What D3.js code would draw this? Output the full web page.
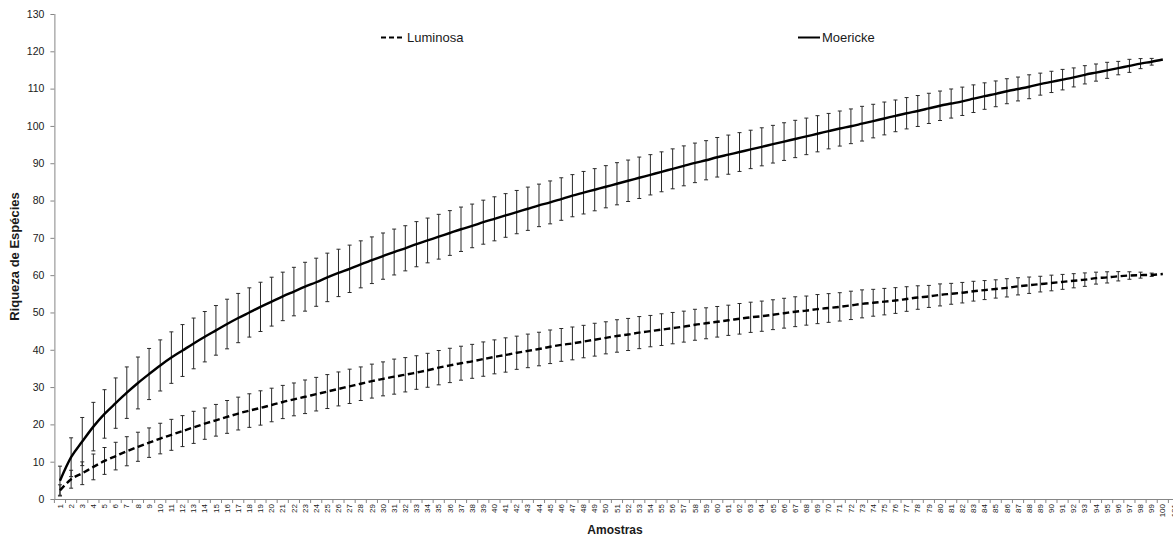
<!DOCTYPE html>
<html>
<head>
<meta charset="utf-8">
<script src="https://cdn.jsdelivr.net/npm/d3@7"></script>
<style>
  html, body { margin: 0; padding: 0; background: #fff; }
  svg { display: block; font-family: "Liberation Sans", Arial, sans-serif; }
</style>
</head>
<body>
<svg id="chart" width="1173" height="537"></svg>
<script>
// ---- Data ----
const categories = [1,2,3,4,5,6,7,8,9,10,11,12,13,14,15,16,17,18,19,20,21,22,23,24,25,26,27,28,29,30,31,32,33,34,35,36,37,38,39,40,41,42,43,44,45,46,47,48,49,50,51,52,53,54,55,56,57,58,59,60,61,62,63,64,65,66,67,68,69,70,71,72,73,74,75,76,77,78,79,80,81,82,83,84,85,86,87,88,89,90,91,92,93,94,95,96,97,98,99,100,101];

const moerickeMean = [4.9,11.2,15.4,19.4,22.8,25.7,28.5,31.1,33.5,35.8,37.9,39.8,41.7,43.5,45.2,46.9,48.5,50.0,51.5,52.9,54.3,55.6,56.9,58.1,59.4,60.6,61.7,62.9,64.0,65.1,66.2,67.2,68.3,69.3,70.3,71.3,72.3,73.2,74.2,75.1,76.0,76.9,77.8,78.7,79.5,80.4,81.3,82.1,82.9,83.7,84.5,85.3,86.1,86.9,87.7,88.5,89.3,90.1,90.8,91.6,92.3,93.0,93.7,94.4,95.1,95.8,96.5,97.2,97.9,98.6,99.3,99.9,100.6,101.3,102.0,102.7,103.4,104.0,104.7,105.4,106.0,106.6,107.3,108.0,108.6,109.3,109.9,110.5,111.2,111.8,112.4,113.0,113.7,114.3,114.9,115.5,116.1,116.7,117.2,117.8];

const moerickeErr = [3.9,5.2,6.45,6.5,6.5,6.75,6.9,6.95,6.85,6.85,6.9,6.95,6.8,6.75,6.65,6.65,6.6,6.6,6.6,6.55,6.5,6.5,6.55,6.45,6.5,6.35,6.35,6.3,6.25,6.2,6.15,6.05,6.05,6.0,6.0,6.0,5.95,5.85,5.9,5.9,5.85,5.8,5.8,5.7,5.75,5.7,5.65,5.7,5.65,5.65,5.65,5.55,5.55,5.4,5.35,5.35,5.35,5.3,5.25,5.3,5.25,5.2,5.15,5.1,5.05,5.05,5.0,4.9,4.85,4.75,4.7,4.65,4.65,4.5,4.4,4.25,4.2,4.15,4.05,3.95,3.9,3.8,3.7,3.55,3.45,3.35,3.2,3.2,2.95,2.85,2.75,2.55,2.45,2.3,2.15,1.8,1.75,1.35,0.9,0];

const luminosaMean = [2.3,5.3,6.9,8.6,10.2,11.5,12.8,14.0,15.1,16.2,17.2,18.2,19.2,20.2,21.1,22.0,22.9,23.7,24.4,25.2,26.0,26.7,27.4,28.1,28.8,29.5,30.2,30.9,31.6,32.2,32.8,33.3,33.9,34.5,35.2,35.8,36.4,36.9,37.5,38.1,38.6,39.2,39.7,40.2,40.8,41.3,41.7,42.2,42.7,43.2,43.7,44.1,44.6,45.0,45.4,45.8,46.2,46.7,47.1,47.5,47.9,48.3,48.7,49.0,49.4,49.8,50.2,50.5,50.9,51.2,51.5,51.9,52.3,52.6,52.9,53.2,53.6,54.0,54.3,54.7,55.0,55.3,55.7,56.0,56.3,56.6,57.0,57.3,57.6,57.9,58.2,58.5,58.8,59.2,59.4,59.7,59.9,60.0,60.1,60.3];

const luminosaErr = [1.5,2.4,3.05,3.45,3.6,3.7,3.9,3.9,3.95,4.1,4.15,4.15,4.3,4.2,4.25,4.4,4.4,4.5,4.6,4.5,4.45,4.4,4.5,4.5,4.55,4.55,4.6,4.5,4.55,4.55,4.7,4.6,4.5,4.55,4.6,4.6,4.55,4.55,4.6,4.55,4.6,4.45,4.5,4.5,4.5,4.4,4.4,4.35,4.4,4.3,4.35,4.3,4.3,4.2,4.25,4.2,4.15,4.15,4.15,4.1,4.05,4.1,4.05,4.05,4.0,4.0,4.0,3.9,3.9,3.85,3.8,3.8,3.75,3.6,3.55,3.45,3.3,3.15,2.95,2.95,2.8,2.75,2.65,2.55,2.45,2.45,2.3,2.2,2.1,2.1,2.0,1.9,1.8,1.6,1.5,1.25,1.0,0.8,0.45,0];

const yTicks = [0,10,20,30,40,50,60,70,80,90,100,110,120,130];
const seriesNames = ["Luminosa", "Moericke"];

// ---- Layout ----
const svg = d3.select("#chart");
const plotLeft = 54.4, plotTop = 14, plotBottom = 499, bandW = 11.14;
const axisColor = "#868686";
const textColor = "#1a1a1a";

const x = d3.scaleBand().domain(categories).range([plotLeft, plotLeft + categories.length * bandW]).padding(0);
const y = d3.scaleLinear().domain([0, 130]).range([plotBottom, plotTop]);
const cx = c => x(c) + x.bandwidth() / 2;

const series = [
  { name: seriesNames[0], mean: luminosaMean, err: luminosaErr, dash: "6.5,3.5" },
  { name: seriesNames[1], mean: moerickeMean, err: moerickeErr, dash: null }
].map(s => ({ ...s, pts: s.mean.map((m, i) => ({ c: categories[i], m, e: s.err[i] })) }));

// ---- Y axis ----
const yAxis = svg.append("g")
  .attr("transform", `translate(${plotLeft},0)`)
  .call(d3.axisLeft(y).tickValues(yTicks).tickSize(4).tickSizeOuter(0).tickPadding(6));
yAxis.select(".domain").attr("stroke", axisColor).attr("d", `M0.5,${plotTop}V${plotBottom}`);
yAxis.selectAll(".tick line").attr("stroke", axisColor);
yAxis.selectAll(".tick text").attr("fill", textColor).style("font-size", "10.5px")
  .style("font-family", "'Liberation Sans', Arial, sans-serif");

// ---- X axis ----
const xAxis = svg.append("g")
  .attr("transform", `translate(0,${plotBottom})`)
  .call(d3.axisBottom(x).tickSize(0).tickSizeOuter(0));
xAxis.select(".domain").attr("stroke", axisColor);
xAxis.selectAll(".tick text")
  .attr("transform", "rotate(-90)")
  .attr("x", -5).attr("y", 0).attr("dy", "0.33em")
  .style("text-anchor", "end")
  .style("font-size", "8px")
  .style("font-family", "'Liberation Sans', Arial, sans-serif")
  .attr("fill", textColor);
// boundary ticks between categories
xAxis.selectAll(".bt")
  .data(categories)
  .enter().append("line")
  .attr("class", "bt")
  .attr("x1", d => x(d)).attr("x2", d => x(d))
  .attr("y1", 0).attr("y2", 4)
  .attr("stroke", axisColor);

// ---- Error bars ----
const capW = 2;
series.forEach(s => {
  const g = svg.append("g").attr("stroke", "#2a2a2a").attr("stroke-width", 1);
  const pts = s.pts.filter(p => p.e > 0);
  g.selectAll(".v").data(pts).enter().append("line")
    .attr("x1", p => cx(p.c)).attr("x2", p => cx(p.c))
    .attr("y1", p => y(p.m + p.e)).attr("y2", p => y(p.m - p.e));
  g.selectAll(".t").data(pts).enter().append("line")
    .attr("x1", p => cx(p.c) - capW).attr("x2", p => cx(p.c) + capW)
    .attr("y1", p => y(p.m + p.e)).attr("y2", p => y(p.m + p.e));
  g.selectAll(".b").data(pts).enter().append("line")
    .attr("x1", p => cx(p.c) - capW).attr("x2", p => cx(p.c) + capW)
    .attr("y1", p => y(p.m - p.e)).attr("y2", p => y(p.m - p.e));
});

// ---- Lines ----
const line = d3.line().x(p => cx(p.c)).y(p => y(p.m)).curve(d3.curveMonotoneX);
series.forEach(s => {
  svg.append("path")
    .datum(s.pts)
    .attr("fill", "none")
    .attr("stroke", "#000")
    .attr("stroke-width", 2.4)
    .attr("stroke-dasharray", s.dash)
    .attr("d", line);
});

// ---- Legend ----
const legendY = 37.5;
const legend = [
  { name: seriesNames[0], x1: 381, x2: 402, tx: 407, dash: "5,3" },
  { name: seriesNames[1], x1: 798, x2: 820, tx: 822, dash: null }
];
legend.forEach(l => {
  svg.append("line")
    .attr("x1", l.x1).attr("x2", l.x2).attr("y1", legendY).attr("y2", legendY)
    .attr("stroke", "#000").attr("stroke-width", 2)
    .attr("stroke-dasharray", l.dash);
  svg.append("text")
    .attr("x", l.tx).attr("y", legendY + 4.5)
    .attr("fill", textColor)
    .style("font-size", "13px")
    .text(l.name);
});

// ---- Axis titles ----
svg.append("text")
  .attr("transform", `translate(19,${(plotTop + plotBottom) / 2}) rotate(-90)`)
  .attr("text-anchor", "middle")
  .attr("fill", textColor)
  .style("font-size", "13px").style("font-weight", "bold")
  .text("Riqueza de Espécies");

svg.append("text")
  .attr("x", 615).attr("y", 534)
  .attr("text-anchor", "middle")
  .attr("fill", textColor)
  .style("font-size", "12px").style("font-weight", "bold")
  .text("Amostras");
</script>
</body>
</html>
